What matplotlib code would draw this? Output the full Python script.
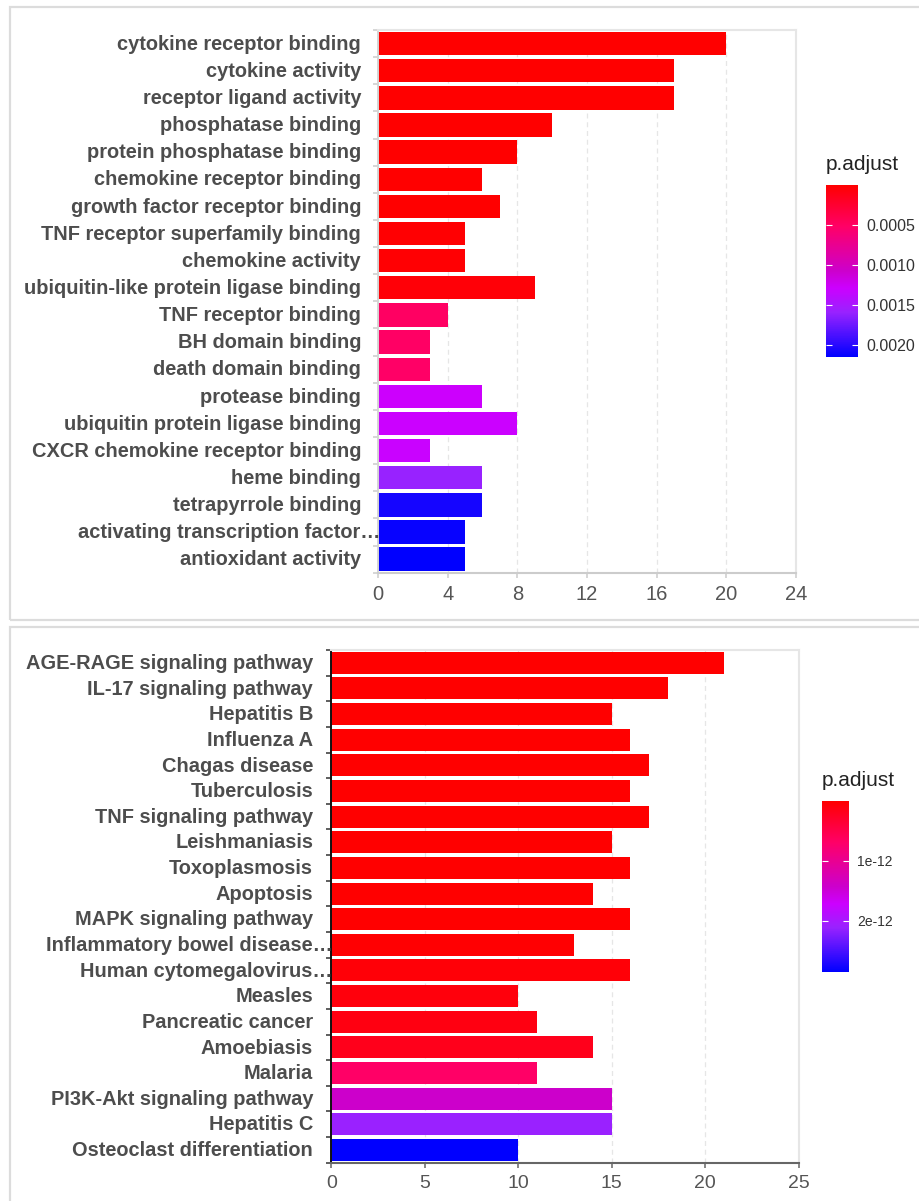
import numpy as np
import matplotlib
matplotlib.use("Agg")
import matplotlib.pyplot as plt
from matplotlib.colors import LinearSegmentedColormap, Normalize
from matplotlib.cm import ScalarMappable
from matplotlib.patches import Rectangle
from matplotlib.ticker import FixedLocator

plt.rcParams['font.family'] = ['Liberation Sans', 'DejaVu Sans']

# ---- GO molecular function enrichment ----
go_terms = [
    "cytokine receptor binding", "cytokine activity", "receptor ligand activity",
    "phosphatase binding", "protein phosphatase binding", "chemokine receptor binding",
    "growth factor receptor binding", "TNF receptor superfamily binding",
    "chemokine activity", "ubiquitin-like protein ligase binding",
    "TNF receptor binding", "BH domain binding", "death domain binding",
    "protease binding", "ubiquitin protein ligase binding",
    "CXCR chemokine receptor binding", "heme binding", "tetrapyrrole binding",
    "activating transcription factor\u2026", "antioxidant activity",
]
go_counts = [20, 17, 17, 10, 8, 6, 7, 5, 5, 9, 4, 3, 3, 6, 8, 3, 6, 6, 5, 5]
go_padj = [1.0e-9, 4.2e-9, 5.1e-8, 2.3e-7, 6.0e-7, 1.1e-6, 3.5e-6, 9.0e-6,
           1.8e-5, 4.0e-5, 0.00050, 0.00051, 0.00052, 0.00128, 0.00130,
           0.00131, 0.00159, 0.00207, 0.00212, 0.00215]
go_xticks = [0, 4, 8, 12, 16, 20, 24]
go_cb_ticks = [0.0005, 0.0010, 0.0015, 0.0020]
go_cb_labels = ["0.0005", "0.0010", "0.0015", "0.0020"]

# ---- KEGG pathway enrichment ----
kegg_terms = [
    "AGE-RAGE signaling pathway", "IL-17 signaling pathway", "Hepatitis B",
    "Influenza A", "Chagas disease", "Tuberculosis", "TNF signaling pathway",
    "Leishmaniasis", "Toxoplasmosis", "Apoptosis", "MAPK signaling pathway",
    "Inflammatory bowel disease\u2026", "Human cytomegalovirus\u2026", "Measles",
    "Pancreatic cancer", "Amoebiasis", "Malaria", "PI3K-Akt signaling pathway",
    "Hepatitis C", "Osteoclast differentiation",
]
kegg_counts = [21, 18, 15, 16, 17, 16, 17, 15, 16, 14, 16, 13, 16, 10, 11, 14,
               11, 15, 15, 10]
kegg_padj = [1e-20, 3e-19, 2e-18, 8e-18, 3e-17, 9e-17, 2e-16, 6e-16, 1e-15,
             4e-15, 9e-15, 2e-14, 5e-14, 8e-14, 1.2e-13, 1.8e-13, 0.68e-12,
             1.42e-12, 2.10e-12, 2.85e-12]
kegg_xticks = [0, 5, 10, 15, 20, 25]
kegg_cb_ticks = [1e-12, 2e-12]
kegg_cb_labels = ["1e-12", "2e-12"]

cmap = LinearSegmentedColormap.from_list(
    "padj",
    [(0.0, "#FF0000"), (0.24, "#FF0066"), (0.5, "#CC00CC"), (0.6, "#CC00FF"),
     (0.74, "#9922FF"), (1.0, "#0000FF")],
)

LABEL_COLOR = "#4D4D4D"
TICK_COLOR = "#555555"

fig = plt.figure(figsize=(9.2, 12.01), dpi=100)
W, H = 920.0, 1201.0


def px_rect(x0, y0, x1, y1):
    """Figure-fraction [left, bottom, width, height] from pixel corners."""
    return [x0 / W, 1 - y1 / H, (x1 - x0) / W, (y1 - y0) / H]


# panel frames
for (x0, y0, x1, y1) in [(10, 7, 930, 620), (10, 627, 930, 1215)]:
    l, b, w, h = px_rect(x0, y0, x1, y1)
    fig.add_artist(Rectangle((l, b), w, h, transform=fig.transFigure,
                             fill=False, edgecolor="#DCDCDC", linewidth=1.6,
                             zorder=0))


def draw_panel(rect, terms, counts, padj, xticks, label_pad, trunc_pad,
               fs_label, fs_tick, dark_axes):
    ax = fig.add_axes(px_rect(*rect))
    norm = Normalize(vmin=min(padj), vmax=max(padj))
    n = len(terms)
    ypos = np.arange(n)
    ax.barh(ypos, counts, height=0.86, color=cmap(norm(np.array(padj))),
            linewidth=0, zorder=2)
    ax.set_ylim(n - 0.5, -0.5)
    ax.set_xlim(xticks[0], xticks[-1])
    ax.set_xticks(xticks)
    ax.set_xticklabels([str(t) for t in xticks])
    ax.set_yticks(ypos)
    ax.set_yticklabels([])
    ax.yaxis.set_minor_locator(FixedLocator(np.arange(n + 1) - 0.5))
    ax.tick_params(axis="y", which="major", length=0)

    ax.grid(axis="x", which="major", linestyle=(0, (4, 3)), color="#E6E6E6",
            linewidth=0.9, zorder=0)
    ax.set_axisbelow(True)

    for s in ("top", "right"):
        ax.spines[s].set_color("#E6E6E6")
        ax.spines[s].set_linewidth(1.5)
    if dark_axes:
        ax.spines["left"].set_color("#111111")
        ax.spines["left"].set_linewidth(1.4)
        ax.spines["bottom"].set_color("#666666")
        ax.spines["bottom"].set_linewidth(1.5)
        ax.tick_params(axis="y", which="minor", length=3.5, width=1.1,
                       color="#333333")
        ax.tick_params(axis="x", length=3.5, width=1.1, color="#666666")
    else:
        ax.spines["left"].set_color("#D5D5D5")
        ax.spines["left"].set_linewidth(1.4)
        ax.spines["bottom"].set_color("#CCCCCC")
        ax.spines["bottom"].set_linewidth(1.5)
        ax.tick_params(axis="y", which="minor", length=3.5, width=1.1,
                       color="#CCCCCC")
        ax.tick_params(axis="x", length=3.5, width=1.1, color="#CCCCCC")
    ax.tick_params(axis="x", labelsize=fs_tick, labelcolor=TICK_COLOR, pad=5)

    for i, t in enumerate(terms):
        off = trunc_pad if t.endswith("\u2026") else -label_pad
        ax.annotate(t, xy=(0, i), xycoords=("axes fraction", "data"),
                    xytext=(off, -0.5), textcoords="offset points",
                    ha="right", va="center", fontsize=fs_label,
                    fontweight="bold", color=LABEL_COLOR,
                    annotation_clip=False)
    return norm


def draw_legend(bar_rect, title_xy, norm, ticks, labels, fs_title, fs_tick):
    cax = fig.add_axes(px_rect(*bar_rect))
    cb = fig.colorbar(ScalarMappable(norm=norm, cmap=cmap), cax=cax)
    cb.outline.set_visible(False)
    cax.invert_yaxis()
    cb.set_ticks(ticks)
    cb.set_ticklabels(labels)
    cax.yaxis.set_ticks_position("both")
    cax.tick_params(axis="y", direction="in", length=4, width=0.8,
                    color="white", labelleft=False, labelright=True,
                    labelsize=fs_tick, labelcolor="#333333", pad=6)
    fig.text(title_xy[0] / W, 1 - title_xy[1] / H, "p.adjust",
             ha="left", va="center", fontsize=fs_title, color="#222222")


go_norm = draw_panel((378, 30, 796, 572.7), go_terms, go_counts, go_padj,
                     go_xticks, 12.2, 1.5, 14.4, 14.5, dark_axes=False)
draw_legend((826, 185, 858, 357), (826, 165), go_norm, go_cb_ticks,
            go_cb_labels, 15, 11.5)

kegg_norm = draw_panel((331.3, 650, 798.7, 1162.7), kegg_terms, kegg_counts,
                       kegg_padj, kegg_xticks, 13, 0.7, 14.4, 14,
                       dark_axes=True)
draw_legend((822, 801, 849, 972), (822, 780), kegg_norm, kegg_cb_ticks,
            kegg_cb_labels, 15, 10)

fig.savefig("out.png", dpi=100)
